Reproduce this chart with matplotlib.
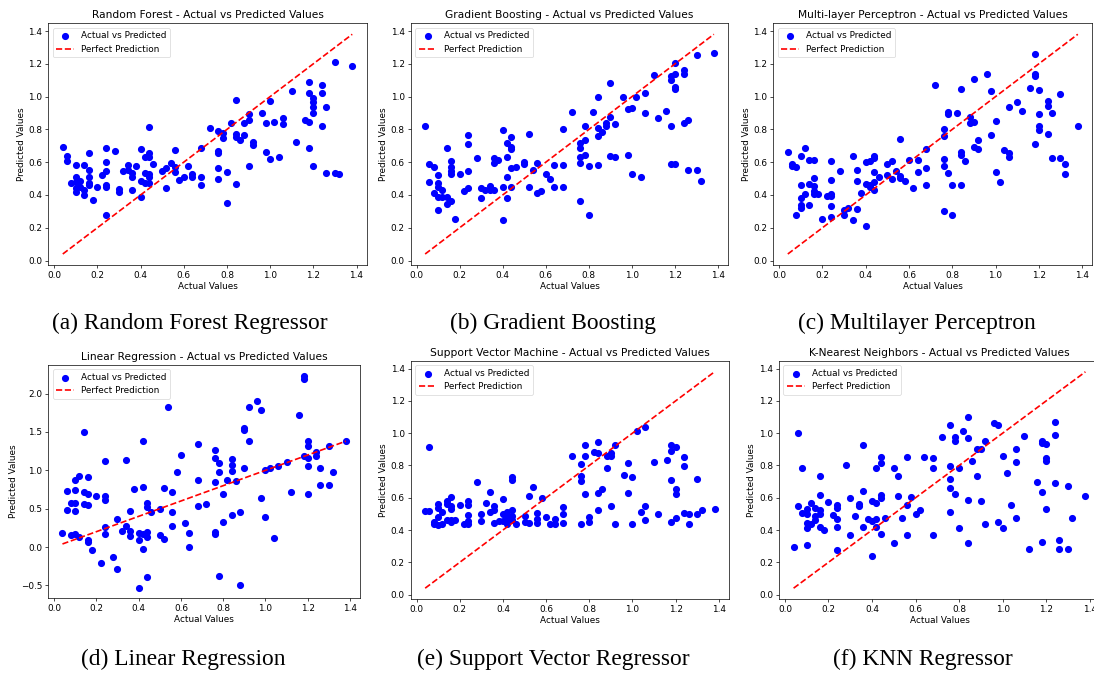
import matplotlib
matplotlib.use("Agg")
import matplotlib.pyplot as plt

# (actual, predicted) pairs
rf_points = [(0.04,0.69),(0.06,0.635),(0.06,0.61),(0.08,0.474),(0.10,0.58),(0.10,0.507),(0.10,0.48),(0.10,0.44),(0.10,0.42),
 (0.12,0.486),(0.12,0.45),(0.14,0.583),(0.14,0.43),(0.14,0.40),(0.16,0.653),(0.16,0.552),(0.16,0.51),(0.16,0.474),(0.16,0.463),
 (0.18,0.372),(0.20,0.449),(0.22,0.521),(0.24,0.684),(0.24,0.60),(0.24,0.546),(0.24,0.459),(0.24,0.447),(0.24,0.275),(0.28,0.666),
 (0.30,0.434),(0.30,0.418),(0.32,0.548),(0.34,0.583),(0.34,0.552),(0.36,0.536),(0.36,0.51),(0.36,0.43),(0.38,0.575),(0.40,0.678),
 (0.40,0.486),(0.40,0.387),(0.42,0.631),(0.42,0.535),(0.42,0.476),(0.44,0.815),(0.44,0.657),(0.44,0.631),(0.44,0.527),(0.44,0.51),
 (0.44,0.476),(0.46,0.589),(0.50,0.548),(0.52,0.562),(0.52,0.443),(0.54,0.595),(0.56,0.674),(0.56,0.569),(0.56,0.542),(0.58,0.49),
 (0.60,0.51),(0.62,0.579),(0.64,0.525),(0.64,0.509),(0.68,0.689),(0.68,0.51),(0.68,0.463),(0.72,0.81),(0.76,0.79),(0.76,0.666),
 (0.76,0.656),(0.76,0.562),(0.76,0.50),(0.78,0.78),(0.78,0.749),(0.80,0.538),(0.80,0.352),(0.82,0.84),(0.84,0.98),(0.84,0.77),
 (0.84,0.755),(0.84,0.47),(0.86,0.736),(0.88,0.837),(0.88,0.765),(0.90,0.893),(0.90,0.858),(0.90,0.579),(0.92,0.724),(0.92,0.703),
 (0.96,0.897),(0.98,0.84),(0.98,0.66),(1.00,0.976),(1.00,0.62),(1.02,0.848),(1.04,0.629),(1.06,0.868),(1.06,0.835),(1.10,1.034),
 (1.12,0.724),(1.16,0.858),(1.18,1.09),(1.18,1.02),(1.18,0.848),(1.18,0.687),(1.20,0.993),(1.20,0.966),(1.20,0.935),(1.20,0.897),
 (1.20,0.579),(1.24,1.07),(1.24,1.02),(1.24,0.819),(1.26,0.935),(1.26,0.536),(1.30,1.214),(1.30,0.536),(1.32,0.525),(1.38,1.187)]

gb_points = [(0.04,0.823),(0.06,0.591),(0.06,0.48),(0.08,0.569),(0.08,0.414),(0.10,0.521),(0.10,0.476),(0.10,0.449),(0.10,0.387),
 (0.10,0.306),(0.12,0.428),(0.12,0.387),(0.14,0.687),(0.14,0.387),(0.14,0.345),(0.16,0.608),(0.16,0.573),(0.16,0.546),(0.16,0.525),
 (0.16,0.362),(0.18,0.252),(0.20,0.527),(0.22,0.422),(0.24,0.765),(0.24,0.713),(0.24,0.548),(0.24,0.445),(0.28,0.624),(0.30,0.443),
 (0.30,0.383),(0.32,0.428),(0.34,0.455),(0.34,0.428),(0.36,0.624),(0.36,0.598),(0.36,0.428),(0.38,0.614),(0.40,0.798),(0.40,0.449),
 (0.40,0.25),(0.42,0.72),(0.42,0.631),(0.42,0.509),(0.42,0.383),(0.44,0.755),(0.44,0.695),(0.44,0.682),(0.44,0.562),(0.44,0.449),
 (0.46,0.571),(0.50,0.60),(0.50,0.589),(0.52,0.769),(0.52,0.447),(0.54,0.552),(0.56,0.593),(0.56,0.414),(0.58,0.422),(0.60,0.531),
 (0.62,0.496),(0.64,0.583),(0.64,0.451),(0.68,0.802),(0.68,0.583),(0.68,0.447),(0.72,0.906),(0.76,0.718),(0.76,0.687),(0.76,0.629),
 (0.76,0.593),(0.76,0.362),(0.78,0.823),(0.78,0.738),(0.78,0.645),(0.80,0.579),(0.80,0.279),(0.82,0.906),(0.84,0.997),(0.84,0.811),
 (0.84,0.761),(0.84,0.583),(0.86,0.784),(0.88,0.842),(0.88,0.821),(0.90,1.081),(0.90,0.873),(0.90,0.636),(0.92,0.831),(0.92,0.633),
 (0.96,0.997),(0.98,0.922),(0.98,0.643),(1.00,0.933),(1.00,0.531),(1.02,0.997),(1.04,0.507),(1.06,1.02),(1.06,0.90),(1.10,1.129),
 (1.12,0.871),(1.16,0.914),(1.18,1.125),(1.18,1.10),(1.18,0.823),(1.18,0.591),(1.20,1.203),(1.20,1.135),(1.20,1.059),(1.20,1.048),
 (1.20,0.589),(1.24,1.16),(1.24,1.135),(1.24,0.842),(1.26,0.86),(1.26,0.552),(1.30,1.253),(1.30,0.552),(1.32,0.486),(1.38,1.266)]

mlp_points = [(0.04,0.66),(0.06,0.587),(0.06,0.577),(0.08,0.569),(0.08,0.277),(0.10,0.635),(0.10,0.459),(0.10,0.38),(0.10,0.341),
 (0.10,0.32),(0.12,0.684),(0.12,0.403),(0.14,0.614),(0.14,0.469),(0.14,0.341),(0.16,0.614),(0.16,0.505),(0.16,0.453),(0.16,0.426),
 (0.16,0.407),(0.18,0.407),(0.20,0.252),(0.22,0.391),(0.24,0.608),(0.24,0.494),(0.24,0.407),(0.24,0.391),(0.24,0.331),(0.24,0.267),
 (0.28,0.546),(0.30,0.31),(0.30,0.279),(0.32,0.32),(0.34,0.639),(0.34,0.246),(0.36,0.552),(0.36,0.486),(0.36,0.314),(0.38,0.411),
 (0.40,0.602),(0.40,0.469),(0.40,0.211),(0.42,0.61),(0.42,0.459),(0.42,0.449),(0.44,0.635),(0.44,0.624),(0.44,0.542),(0.44,0.48),
 (0.44,0.428),(0.46,0.511),(0.50,0.587),(0.50,0.521),(0.52,0.608),(0.52,0.496),(0.54,0.546),(0.56,0.74),(0.56,0.517),(0.56,0.505),
 (0.58,0.486),(0.60,0.614),(0.62,0.445),(0.64,0.616),(0.64,0.542),(0.68,0.682),(0.68,0.562),(0.68,0.459),(0.72,1.069),(0.76,0.804),
 (0.76,0.759),(0.76,0.62),(0.76,0.579),(0.76,0.30),(0.78,0.908),(0.78,0.891),(0.78,0.536),(0.80,0.459),(0.80,0.277),(0.82,0.902),
 (0.84,1.046),(0.84,0.66),(0.84,0.641),(0.84,0.459),(0.86,0.61),(0.88,0.877),(0.88,0.84),(0.90,1.11),(0.90,0.848),(0.90,0.691),
 (0.92,0.734),(0.92,0.68),(0.96,1.137),(0.98,1.032),(0.98,0.767),(1.00,0.852),(1.00,0.54),(1.02,0.478),(1.04,0.674),(1.06,0.939),
 (1.06,0.656),(1.06,0.629),(1.10,0.966),(1.12,0.914),(1.16,1.05),(1.18,1.261),(1.18,1.137),(1.18,1.125),(1.18,0.713),(1.20,1.042),
 (1.20,0.893),(1.20,0.819),(1.20,0.796),(1.24,0.976),(1.24,0.943),(1.24,0.769),(1.26,0.897),(1.26,0.624),(1.30,1.017),(1.30,0.624),
 (1.32,0.587),(1.32,0.527),(1.38,0.823)]

lr_points = [(0.04,0.178),(0.06,0.73),(0.06,0.483),(0.08,0.574),(0.08,0.152),(0.10,0.87),(0.10,0.739),(0.10,0.574),(0.10,0.465),
 (0.10,0.17),(0.12,0.926),(0.12,0.126),(0.14,1.496),(0.14,0.722),(0.14,0.565),(0.16,0.917),(0.16,0.691),(0.16,0.543),(0.16,0.087),
 (0.16,0.065),(0.18,-0.035),(0.20,0.661),(0.22,-0.213),(0.24,1.117),(0.24,0.665),(0.24,0.609),(0.24,0.265),(0.24,0.17),(0.28,-0.126),
 (0.30,0.361),(0.30,-0.291),(0.32,0.204),(0.34,1.139),(0.34,0.278),(0.36,0.465),(0.36,0.213),(0.36,0.139),(0.38,0.757),(0.40,0.178),
 (0.40,0.096),(0.40,-0.53),(0.42,1.387),(0.42,0.783),(0.42,0.17),(0.42,-0.026),(0.44,0.578),(0.44,0.526),(0.44,0.191),(0.44,0.13),
 (0.44,-0.391),(0.46,0.452),(0.50,0.491),(0.50,0.157),(0.52,0.765),(0.52,0.104),(0.54,1.83),(0.56,0.722),(0.56,0.457),(0.56,0.27),
 (0.58,0.983),(0.60,1.204),(0.62,0.313),(0.64,0.187),(0.64,0.0),(0.68,1.339),(0.68,0.87),(0.68,0.53),(0.72,0.561),(0.76,1.265),
 (0.76,1.161),(0.76,0.852),(0.76,0.196),(0.76,0.17),(0.78,1.1),(0.78,0.978),(0.78,-0.374),(0.80,0.696),(0.80,0.322),(0.82,0.878),
 (0.84,1.152),(0.84,1.074),(0.84,0.991),(0.84,0.413),(0.86,0.865),(0.88,0.452),(0.88,-0.496),(0.90,1.552),(0.90,1.522),(0.90,1.035),
 (0.92,1.83),(0.92,1.387),(0.96,1.909),(0.98,1.783),(0.98,0.639),(1.00,1.004),(1.00,0.396),(1.02,1.026),(1.04,0.122),(1.06,1.061),
 (1.10,1.104),(1.12,0.722),(1.16,1.726),(1.18,2.235),(1.18,2.196),(1.18,1.187),(1.20,1.387),(1.20,1.313),(1.20,1.157),(1.20,1.061),
 (1.20,0.687),(1.24,1.243),(1.24,1.191),(1.26,1.035),(1.26,0.813),(1.30,1.322),(1.30,0.813),(1.32,0.983),(1.38,1.378)]

svm_points = [(0.04,0.519),(0.06,0.917),(0.06,0.519),(0.08,0.45),(0.08,0.436),(0.10,0.56),(0.10,0.539),(0.10,0.483),(0.10,0.431),
 (0.12,0.512),(0.12,0.436),(0.14,0.581),(0.14,0.56),(0.14,0.463),(0.16,0.606),(0.16,0.55),(0.16,0.533),(0.16,0.463),(0.16,0.45),
 (0.18,0.463),(0.20,0.554),(0.22,0.436),(0.24,0.581),(0.24,0.554),(0.24,0.494),(0.24,0.456),(0.24,0.436),(0.28,0.699),(0.30,0.502),
 (0.30,0.454),(0.32,0.57),(0.34,0.633),(0.34,0.512),(0.36,0.546),(0.36,0.525),(0.36,0.442),(0.38,0.454),(0.40,0.591),(0.40,0.502),
 (0.40,0.454),(0.42,0.512),(0.42,0.487),(0.42,0.467),(0.42,0.436),(0.44,0.726),(0.44,0.711),(0.44,0.525),(0.44,0.487),(0.44,0.463),
 (0.46,0.436),(0.50,0.487),(0.50,0.45),(0.52,0.608),(0.52,0.446),(0.54,0.664),(0.56,0.508),(0.56,0.467),(0.56,0.446),(0.58,0.597),
 (0.60,0.483),(0.62,0.436),(0.64,0.467),(0.64,0.436),(0.68,0.543),(0.68,0.502),(0.68,0.446),(0.72,0.857),(0.76,0.809),(0.76,0.732),
 (0.76,0.705),(0.76,0.44),(0.78,0.929),(0.78,0.857),(0.78,0.622),(0.80,0.483),(0.80,0.45),(0.82,0.886),(0.84,0.948),(0.84,0.877),
 (0.84,0.628),(0.84,0.523),(0.86,0.653),(0.88,0.861),(0.88,0.782),(0.90,0.877),(0.90,0.861),(0.90,0.546),(0.92,0.929),(0.92,0.44),
 (0.96,0.741),(0.98,0.815),(0.98,0.628),(1.00,0.73),(1.00,0.44),(1.02,1.012),(1.04,0.512),(1.06,1.037),(1.06,0.546),(1.06,0.463),
 (1.10,0.819),(1.12,0.498),(1.16,0.836),(1.18,0.929),(1.18,0.888),(1.18,0.709),(1.18,0.45),(1.20,0.917),(1.20,0.653),(1.20,0.622),
 (1.20,0.473),(1.24,0.855),(1.24,0.799),(1.24,0.508),(1.26,0.498),(1.26,0.44),(1.30,0.716),(1.30,0.498),(1.32,0.525),(1.38,0.529)]

knn_points = [(0.04,0.295),(0.06,1.002),(0.06,0.546),(0.08,0.782),(0.08,0.504),(0.10,0.529),(0.10,0.502),(0.10,0.442),(0.10,0.415),
 (0.10,0.309),(0.12,0.57),(0.12,0.436),(0.14,0.539),(0.14,0.487),(0.14,0.46),(0.16,0.736),(0.16,0.616),(0.16,0.525),(0.16,0.502),
 (0.16,0.419),(0.18,0.398),(0.20,0.575),(0.22,0.494),(0.24,0.556),(0.24,0.539),(0.24,0.467),(0.24,0.419),(0.24,0.274),(0.28,0.805),
 (0.30,0.597),(0.30,0.367),(0.32,0.487),(0.34,0.564),(0.34,0.55),(0.36,0.929),(0.36,0.641),(0.36,0.419),(0.38,0.467),(0.40,0.577),
 (0.40,0.456),(0.40,0.239),(0.42,0.782),(0.42,0.57),(0.42,0.467),(0.42,0.419),(0.44,0.855),(0.44,0.813),(0.44,0.62),(0.44,0.597),
 (0.44,0.378),(0.46,0.473),(0.50,0.782),(0.50,0.322),(0.52,0.736),(0.52,0.612),(0.54,0.473),(0.56,0.855),(0.56,0.556),(0.56,0.367),
 (0.58,0.602),(0.60,0.502),(0.62,0.525),(0.64,0.855),(0.68,0.844),(0.68,0.784),(0.68,0.367),(0.72,0.975),(0.76,1.052),(0.76,0.799),
 (0.76,0.716),(0.76,0.66),(0.76,0.512),(0.78,0.975),(0.78,0.954),(0.78,0.622),(0.80,0.782),(0.80,0.411),(0.82,1.016),(0.84,1.103),
 (0.84,0.969),(0.84,0.585),(0.84,0.317),(0.86,0.826),(0.88,0.902),(0.88,0.736),(0.90,0.902),(0.90,0.577),(0.92,0.954),(0.92,0.436),
 (0.96,1.064),(0.98,1.052),(0.98,0.452),(1.00,0.861),(1.00,0.411),(1.02,0.751),(1.04,0.554),(1.06,0.902),(1.06,0.823),(1.06,0.477),
 (1.10,0.981),(1.12,0.28),(1.16,0.699),(1.18,0.954),(1.18,0.94),(1.18,0.637),(1.18,0.328),(1.20,0.933),(1.20,0.844),(1.20,0.826),
 (1.20,0.533),(1.24,1.068),(1.24,0.991),(1.24,0.689),(1.26,0.338),(1.26,0.28),(1.30,0.674),(1.30,0.28),(1.32,0.477),(1.38,0.608)]

titles = ["Random Forest - Actual vs Predicted Values",
          "Gradient Boosting - Actual vs Predicted Values",
          "Multi-layer Perceptron - Actual vs Predicted Values",
          "Linear Regression - Actual vs Predicted Values",
          "Support Vector Machine - Actual vs Predicted Values",
          "K-Nearest Neighbors - Actual vs Predicted Values"]
captions = ["(a) Random Forest Regressor", "(b) Gradient Boosting", "(c) Multilayer Perceptron",
            "(d) Linear Regression", "(e) Support Vector Regressor", "(f) KNN Regressor"]
datasets = [rf_points, gb_points, mlp_points, lr_points, svm_points, knn_points]

W, H = 1094, 673
fig = plt.figure(figsize=(W / 100, H / 100), dpi=100)

# axes boxes in pixels: left, top, right, bottom
boxes = [(48.3, 23.3, 366.7, 265.0), (410.7, 23.3, 728.3, 265.0), (773.3, 23.3, 1092.3, 265.0),
         (48.3, 365.0, 360.0, 598.3), (410.7, 361.0, 729.0, 599.0), (779.0, 361.0, 1100.0, 599.0)]
cap_pos = [(190, 323), (553, 323), (917, 323), (183, 659), (553, 659), (923, 659)]

fs = 6.4
for pts, title, box, cap, cp in zip(datasets, titles, boxes, captions, cap_pos):
    l, t, r, b = box
    ax = fig.add_axes([l / W, 1 - b / H, (r - l) / W, (b - t) / H])
    xs = [p[0] for p in pts]
    ys = [p[1] for p in pts]
    ax.scatter(xs, ys, color="blue", s=17, label="Actual vs Predicted", zorder=2)
    lo, hi = min(xs), max(xs)
    ax.plot([lo, hi], [lo, hi], "r--", lw=1.2, label="Perfect Prediction", zorder=3)
    ax.set_title(title, fontsize=7.7, pad=3.5)
    ax.set_xlabel("Actual Values", fontsize=fs, labelpad=1.5)
    ax.set_ylabel("Predicted Values", fontsize=fs, labelpad=2)
    ax.tick_params(labelsize=fs, length=2.2, width=0.5, pad=2)
    for sp in ax.spines.values():
        sp.set_linewidth(0.5)
    leg = ax.legend(loc="upper left", fontsize=fs, borderpad=0.4, handlelength=2,
                    framealpha=0.8, edgecolor="#cccccc")
    leg.get_frame().set_linewidth(0.5)
    fig.text(cp[0] / W, 1 - cp[1] / H, cap, ha="center", va="center",
             fontsize=16.8, family="Liberation Serif")

fig.savefig("out.png", dpi=100)
